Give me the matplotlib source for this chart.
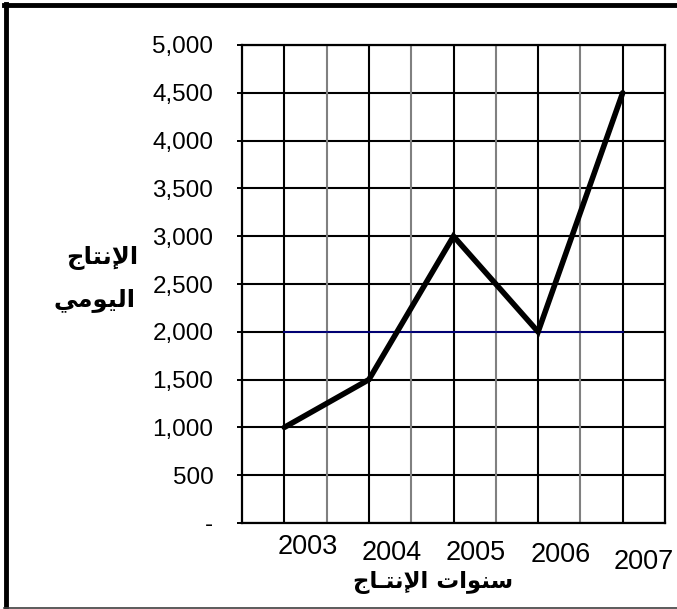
import matplotlib
matplotlib.use("Agg")
import matplotlib.pyplot as plt
from matplotlib.ticker import FixedLocator, FuncFormatter
from matplotlib.lines import Line2D
import matplotlib.transforms as mtrans

# ---- data ----
years = [2003, 2004, 2005, 2006, 2007]
production = [1000, 1500, 3000, 2000, 4500]
reference_level = 2000
y_ticks = [0, 500, 1000, 1500, 2000, 2500, 3000, 3500, 4000, 4500, 5000]
year_labels = ["2003", "2004", "2005", "2006", "2007"]

# Arabic text in presentation forms (visual order) so it renders shaped
ylabel_line1 = "\uFE9D\uFE8E\uFE98\uFEE7\uFEF9\uFE8D"            # الإنتاج
ylabel_line2 = "\uFEF2\uFEE3\uFEEE\uFEF4\uFEDF\uFE8D"            # اليومي
xlabel_text = ("\uFE9D\uFE8E\u0640\uFE98\uFEE7\uFEF9\uFE8D" + " " +
               "\uFE95\uFE8D\uFEEE\uFEE8\uFEB3")                  # سنوات الإنتـاج

W, H = 677, 609
fig = plt.figure(figsize=(W / 100, H / 100), dpi=100)
fig.patch.set_facecolor("white")

def fx(px):
    return px / W

def fy(py):
    return 1 - py / H

ax = fig.add_axes([fx(242), fy(523), fx(665) - fx(242), fy(45) - fy(523)])

ax.plot(years, production, color="black", lw=4, solid_capstyle="round",
        solid_joinstyle="miter", zorder=5)
ax.plot([years[0], years[-1]], [reference_level, reference_level],
        color="#000080", lw=1.3, zorder=4)

ax.set_xlim(2002.5, 2007.5)
ax.set_ylim(0, 5000)

# gridlines
for yv in y_ticks:
    ax.axhline(yv, color="black", lw=1.5, zorder=1)
for xv in years:
    ax.axvline(xv, color="black", lw=1.5, zorder=1)
for xv in [y + 0.5 for y in years[:-1]]:
    ax.axvline(xv, color="#808080", lw=1.5, zorder=1)

for s in ax.spines.values():
    s.set_color("black")
    s.set_linewidth(1.6)

ax.yaxis.set_major_locator(FixedLocator(y_ticks))
ax.yaxis.set_major_formatter(FuncFormatter(lambda v, p: "-" if v == 0 else f"{int(v):,}"))
ax.tick_params(axis="y", direction="out", length=3.6, width=1.4, pad=17,
               labelsize=17.5)
for lab in ax.get_yticklabels():
    lab.set_fontfamily("Liberation Sans")
ax.set_xticks([])

# year labels (placed slightly right of their gridlines, staggered as in source)
dx_px = [24, 23, 22, 23, 21]
y_px = [547, 553, 553, 555, 562]
for yr, lab, dx, yp in zip(years, year_labels, dx_px, y_px):
    tr = mtrans.blended_transform_factory(ax.transData, fig.transFigure)
    off = mtrans.offset_copy(tr, fig=fig, x=dx, y=0, units="dots")
    ax.text(yr, fy(yp), lab, transform=off, ha="center", va="center",
            fontsize=19.5, family="Liberation Sans", clip_on=False)

fig.text(fx(102), fy(258), ylabel_line1, ha="center", va="center",
         fontsize=17.5, fontweight="bold", family="DejaVu Sans")
fig.text(fx(95), fy(300), ylabel_line2, ha="center", va="center",
         fontsize=17.5, fontweight="bold", family="DejaVu Sans")
fig.text(fx(433), fy(582), xlabel_text, ha="center", va="center",
         fontsize=16.5, fontweight="bold", family="DejaVu Sans")

# outer frame
fig.add_artist(Line2D([fx(6), fx(6)], [fy(4), fy(607)], color="black", lw=3.5,
                      transform=fig.transFigure))
fig.add_artist(Line2D([fx(4), 1.0], [fy(5), fy(5)], color="black", lw=3.5,
                      transform=fig.transFigure))
fig.add_artist(Line2D([fx(4), 1.0], [fy(607.5), fy(607.5)], color="#404040", lw=1.2,
                      transform=fig.transFigure))

fig.savefig("out.png", dpi=100)
